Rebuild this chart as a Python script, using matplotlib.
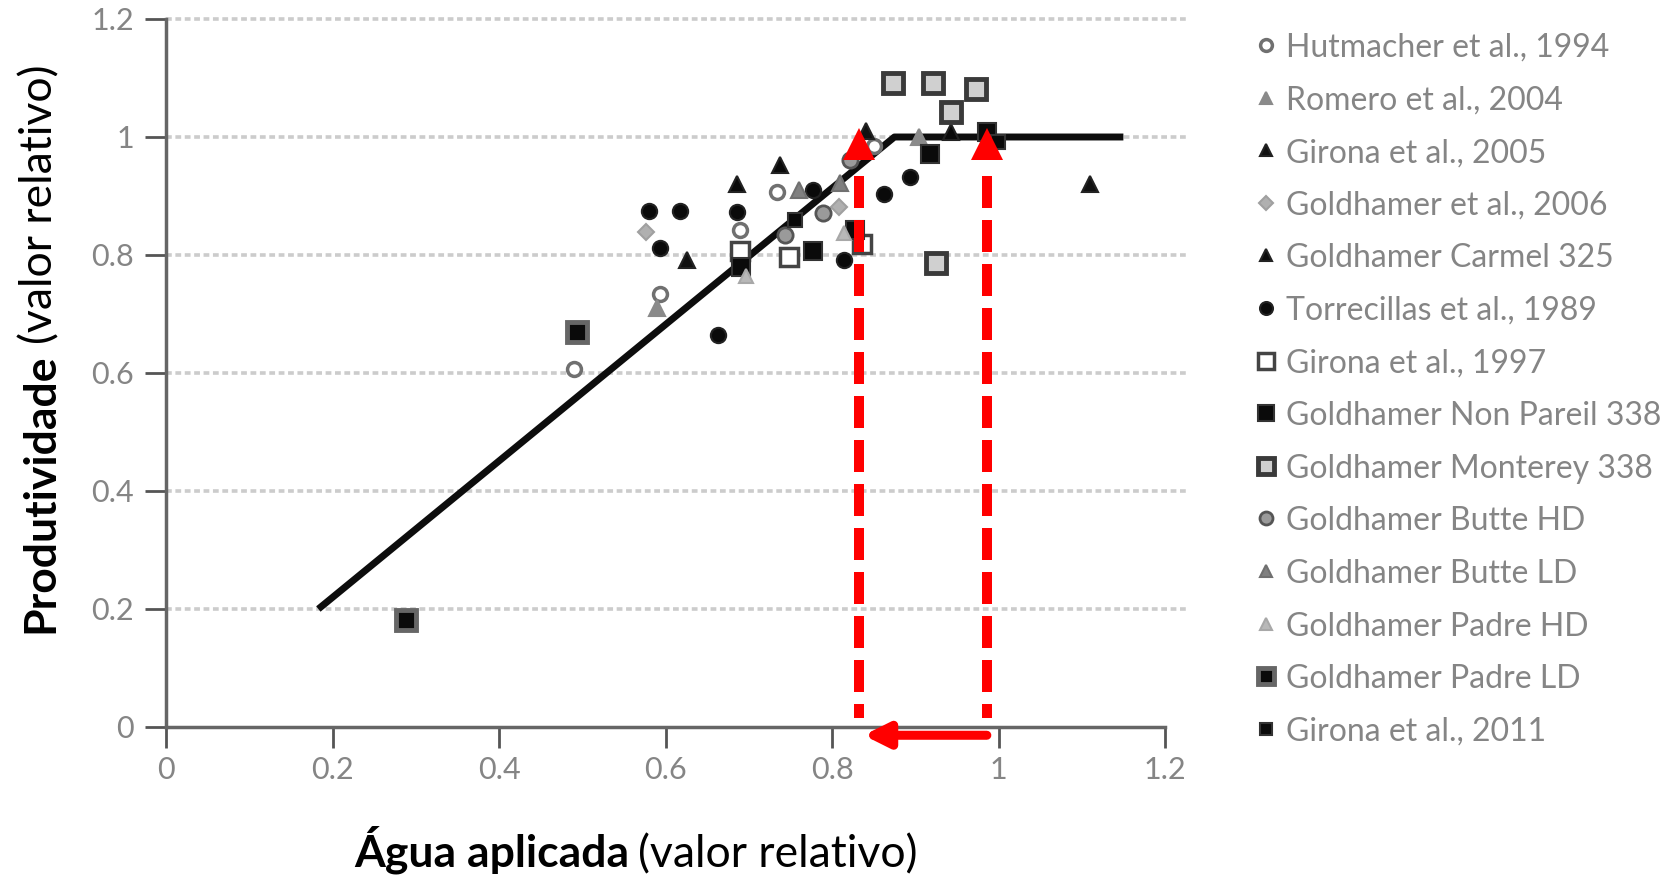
import matplotlib
matplotlib.use('Agg')
import matplotlib.pyplot as plt
from matplotlib.lines import Line2D

plt.rcParams['font.family'] = ['Lato', 'DejaVu Sans']

# ---------------- data ----------------
x_ticks = [0, 0.2, 0.4, 0.6, 0.8, 1.0, 1.2]
x_tick_labels = ['0', '0.2', '0.4', '0.6', '0.8', '1', '1.2']
y_ticks = [0, 0.2, 0.4, 0.6, 0.8, 1.0, 1.2]
y_tick_labels = ['0', '0.2', '0.4', '0.6', '0.8', '1', '1.2']
grid_y = [0.2, 0.4, 0.6, 0.8, 1.0, 1.2]

fit_x = [0.183, 0.875, 1.15]
fit_y = [0.20, 1.00, 1.00]

hutmacher_x = [0.490, 0.593, 0.689, 0.734, 0.851]
hutmacher_y = [0.607, 0.734, 0.843, 0.906, 0.984]
romero_x = [0.590, 0.905]
romero_y = [0.710, 1.000]
girona2005_x = [0.626, 1.110, 0.841]
girona2005_y = [0.792, 0.921, 1.011]
goldhamer2006_x = [0.577, 0.808]
goldhamer2006_y = [0.839, 0.881]
carmel_x = [0.686, 0.738, 0.943]
carmel_y = [0.920, 0.952, 1.008]
torrecillas_x = [0.580, 0.617, 0.593, 0.663, 0.686, 0.777, 0.894, 0.862, 0.815]
torrecillas_y = [0.875, 0.874, 0.812, 0.665, 0.873, 0.910, 0.933, 0.904, 0.792]
girona1997_x = [0.689, 0.748, 0.836]
girona1997_y = [0.806, 0.797, 0.819]
nonpareil_x = [0.691, 0.777, 0.918, 0.986, 0.828]
nonpareil_y = [0.780, 0.806, 0.972, 1.008, 0.843]
monterey_x = [0.873, 0.921, 0.973, 0.943, 0.925]
monterey_y = [1.091, 1.091, 1.082, 1.042, 0.787]
butte_hd_x = [0.744, 0.789, 0.822]
butte_hd_y = [0.834, 0.872, 0.961]
butte_ld_x = [0.760, 0.810]
butte_ld_y = [0.910, 0.922]
padre_hd_x = [0.697, 0.814]
padre_hd_y = [0.764, 0.837]
padre_ld_x = [0.288, 0.494]
padre_ld_y = [0.182, 0.670]
girona2011_x = [0.999, 0.755]
girona2011_y = [0.992, 0.860]

series_labels = ['Hutmacher et al., 1994', 'Romero et al., 2004', 'Girona et al., 2005',
                 'Goldhamer et al., 2006', 'Goldhamer Carmel 325', 'Torrecillas et al., 1989',
                 'Girona et al., 1997', 'Goldhamer Non Pareil 338', 'Goldhamer Monterey 338',
                 'Goldhamer Butte HD', 'Goldhamer Butte LD', 'Goldhamer Padre HD',
                 'Goldhamer Padre LD', 'Girona et al., 2011']

# red annotation (applied water reduction)
red_x = [0.832, 0.986]
red_dash_top = 0.934
red_dash_bottom = 0.015
red_head_y = 0.988
arrow_y = -0.014
arrow_tail_x = 0.986
arrow_tip_x = 0.838

# ---------------- styles ----------------
styles = [
    dict(marker='o', mfc='white', mec='#707070', ms=10, mew=2.5),
    dict(marker='^', mfc='#8a8a8a', mec='#8a8a8a', ms=11, mew=1.5),
    dict(marker='^', mfc='#111111', mec='#222222', ms=11, mew=1.5),
    dict(marker='D', mfc='#b0b0b0', mec='#a0a0a0', ms=8, mew=1.5),
    dict(marker='^', mfc='#0a0a0a', mec='#222222', ms=11, mew=1.5),
    dict(marker='o', mfc='#0a0a0a', mec='#222222', ms=11, mew=1.5),
    dict(marker='s', mfc='white', mec='#444444', ms=13, mew=2.5),
    dict(marker='s', mfc='#0a0a0a', mec='#333333', ms=13, mew=1.5),
    dict(marker='s', mfc='#d0d0d0', mec='#3a3a3a', ms=14, mew=3.5),
    dict(marker='o', mfc='#9a9a9a', mec='#555555', ms=11, mew=2),
    dict(marker='^', mfc='#808080', mec='#707070', ms=11, mew=1.5),
    dict(marker='^', mfc='#b8b8b8', mec='#a8a8a8', ms=10, mew=1.5),
    dict(marker='s', mfc='#0a0a0a', mec='#666666', ms=14, mew=3.5),
    dict(marker='s', mfc='#0a0a0a', mec='#333333', ms=10, mew=1.5),
]
series_xy = [(hutmacher_x, hutmacher_y), (romero_x, romero_y), (girona2005_x, girona2005_y),
             (goldhamer2006_x, goldhamer2006_y), (carmel_x, carmel_y),
             (torrecillas_x, torrecillas_y), (girona1997_x, girona1997_y),
             (nonpareil_x, nonpareil_y), (monterey_x, monterey_y),
             (butte_hd_x, butte_hd_y), (butte_ld_x, butte_ld_y),
             (padre_hd_x, padre_hd_y), (padre_ld_x, padre_ld_y),
             (girona2011_x, girona2011_y)]

W, H = 1676, 875
fig = plt.figure(figsize=(W / 100, H / 100), dpi=100)
ax = fig.add_axes([166 / W, 1 - 727 / H, 999 / W, 708 / H])
ax.set_xlim(0, 1.2)
ax.set_ylim(0, 1.2)

# grid lines (extend slightly past the axis end)
ax.hlines(grid_y, 0, 1.225, colors='#cccccc', lw=2.6, linestyles=(0, (1.6, 1)),
          zorder=1, clip_on=False)

# fitted line
ax.plot(fit_x, fit_y, color='#0d0d0d', lw=5, solid_capstyle='butt', zorder=2)

# scatter series
for (xs, ys), st, lab in zip(series_xy, styles, series_labels):
    ax.plot(xs, ys, linestyle='none', zorder=3, label=lab, **st)

# red dashed lines with arrow heads
for rx in red_x:
    ax.plot([rx, rx], [red_dash_top, red_dash_bottom], color='#ff0000', lw=7.2,
            linestyle=(0, (3.2, 1.2)), dash_capstyle='butt', zorder=5, clip_on=False)
    ax.plot([rx], [red_head_y], marker='^', ms=23, color='#ff0000', mew=0,
            linestyle='none', zorder=6, clip_on=False)
ax.annotate('', xy=(arrow_tip_x, arrow_y), xytext=(arrow_tail_x, arrow_y),
            arrowprops=dict(arrowstyle='-|>', color='#ff0000', lw=6.5, mutation_scale=36,
                            shrinkA=0, shrinkB=0),
            annotation_clip=False, zorder=6)

# axes styling
for s in ['top', 'right']:
    ax.spines[s].set_visible(False)
for s in ['left', 'bottom']:
    ax.spines[s].set_linewidth(2.5)
    ax.spines[s].set_color('#666666')
ax.set_xticks(x_ticks)
ax.set_xticklabels(x_tick_labels)
ax.set_yticks(y_ticks)
ax.set_yticklabels(y_tick_labels)
ax.tick_params(axis='both', direction='out', length=15, width=2, color='#555555',
               labelcolor='#858585', labelsize=22)
ax.tick_params(axis='y', pad=8)
ax.tick_params(axis='x', pad=6)

# two-part axis labels (bold + regular)
renderer = fig.canvas.get_renderer()
LBL = 32
gap = 9

# x label
tb = fig.text(0, 0, 'Água aplicada', fontsize=LBL, fontweight='bold', ha='left', va='baseline')
tr = fig.text(0, 0, '(valor relativo)', fontsize=LBL, ha='left', va='baseline')
wb = tb.get_window_extent(renderer).width
wr = tr.get_window_extent(renderer).width
cx = 636
left = cx - (wb + gap + wr) / 2
base_y = 1 - 867 / H
tb.set_position((left / W, base_y))
tr.set_position(((left + wb + gap) / W, base_y))

# y label
yb = fig.text(0, 0, 'Produtividade', fontsize=LBL, fontweight='bold', rotation=90,
              ha='right', va='bottom')
yr = fig.text(0, 0, '(valor relativo)', fontsize=LBL, rotation=90, ha='right', va='bottom')
hb = yb.get_window_extent(renderer).height
hr = yr.get_window_extent(renderer).height
cy = H - 349  # centre in pixels from bottom
bottom = cy - (hb + gap + hr) / 2
xr = 60 / W
yb.set_position((xr, bottom / H))
yr.set_position((xr, (bottom + hb + gap) / H))

# legend (manual, to the right of the plot)
leg_y0 = 1 - 44.9 / H
leg_step = 52.6 / H
mk_x = 1266 / W
tx_x = 1286 / W
for i, (st, lab) in enumerate(zip(styles, series_labels)):
    y = leg_y0 - i * leg_step
    st2 = dict(st)
    st2['ms'] = st['ms'] * 0.85
    fig.add_artist(Line2D([mk_x], [y], transform=fig.transFigure, linestyle='none', **st2))
    fig.text(tx_x, y, lab, fontsize=23, color='#858585', ha='left', va='center_baseline')

fig.savefig('out.png', dpi=100)
